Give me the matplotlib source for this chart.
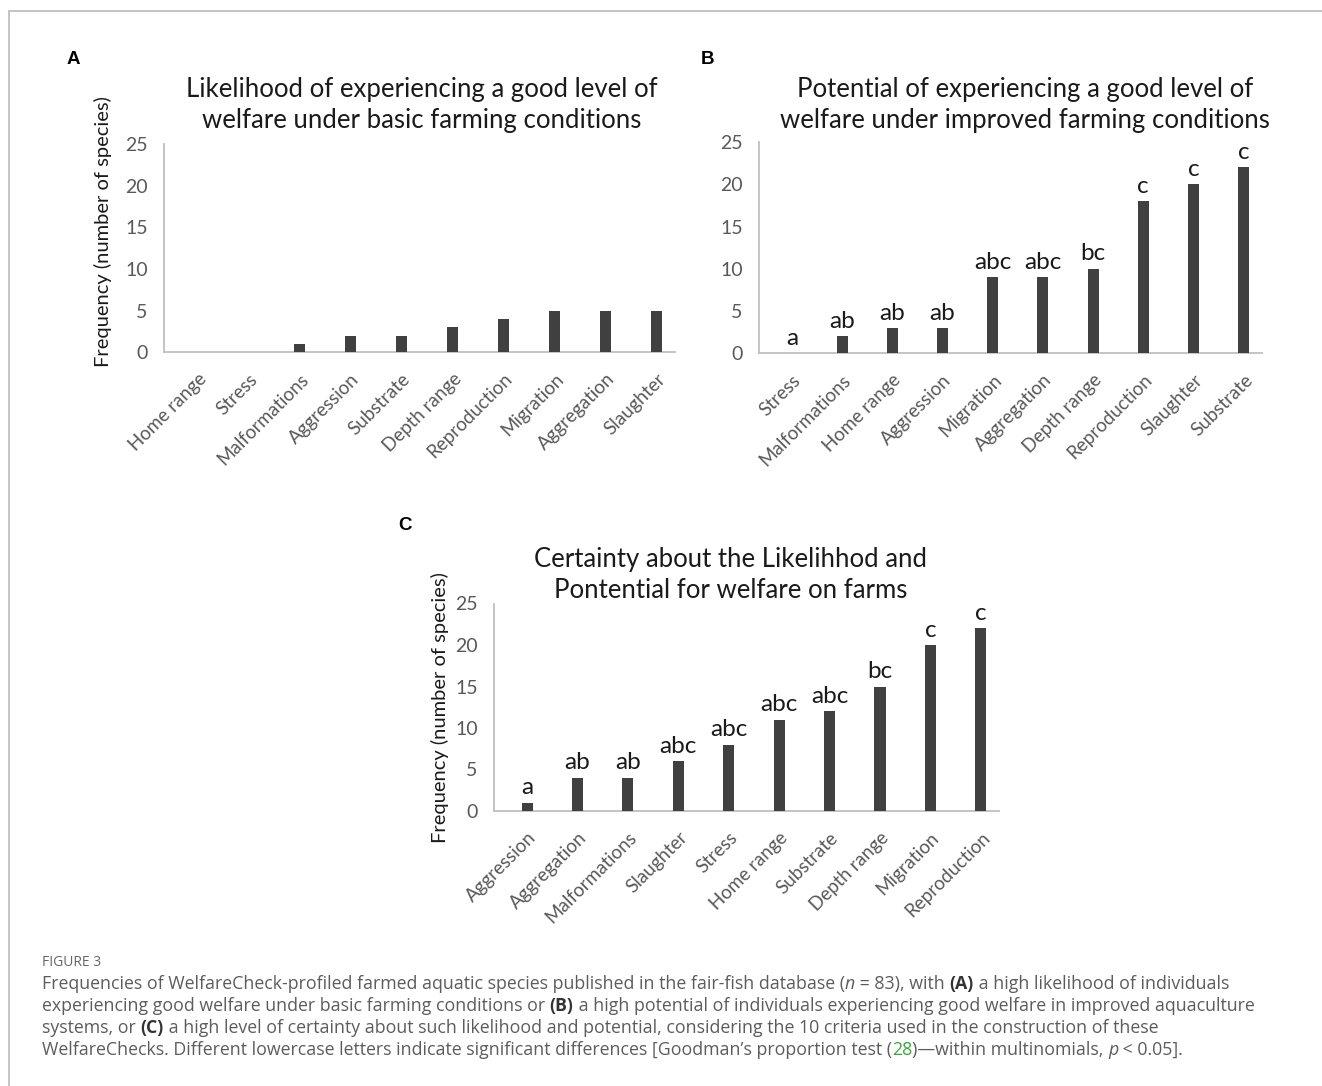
import matplotlib
matplotlib.use("Agg")
from matplotlib import pyplot as plt
from matplotlib.lines import Line2D

# Criteria and counts for each panel
labels_a = ["Home range", "Stress", "Malformations", "Aggression", "Substrate",
            "Depth range", "Reproduction", "Migration", "Aggregation", "Slaughter"]
values_a = [0, 0, 1, 2, 2, 3, 4, 5, 5, 5]

labels_b = ["Stress", "Malformations", "Home range", "Aggression", "Migration",
            "Aggregation", "Depth range", "Reproduction", "Slaughter", "Substrate"]
values_b = [0, 2, 3, 3, 9, 9, 10, 18, 20, 22]
letters_b = ["a", "ab", "ab", "ab", "abc", "abc", "bc", "c", "c", "c"]

labels_c = ["Aggression", "Aggregation", "Malformations", "Slaughter", "Stress",
            "Home range", "Substrate", "Depth range", "Migration", "Reproduction"]
values_c = [1, 4, 4, 6, 8, 11, 12, 15, 20, 22]
letters_c = ["a", "ab", "ab", "abc", "abc", "abc", "abc", "bc", "c", "c"]

yticks = [0, 5, 10, 15, 20, 25]

title_a = "Likelihood of experiencing a good level of\nwelfare under basic farming conditions"
title_b = "Potential of experiencing a good level of\nwelfare under improved farming conditions"
title_c = "Certainty about the Likelihhod and\nPontential for welfare on farms"
ylabel = "Frequency (number of species)"

CHART_FONT = ["Lato", "DejaVu Sans"]
BAR = "#404040"
AXIS = "#bfbfbf"
TICK = "#595959"

W, H = 1322, 1086
fig = plt.figure(figsize=(W / 100, H / 100), dpi=100)
fig.patch.set_facecolor("white")


def px(x0, y0, x1, y1):
    # pixel box (left, top, right, bottom) -> figure fraction rect
    return [x0 / W, 1 - y1 / H, (x1 - x0) / W, (y1 - y0) / H]


def bar_panel(rect, labels, values, letters=None, label_pos=None):
    ax = fig.add_axes(rect)
    x = list(range(len(labels)))
    ax.bar(x, values, width=0.22, color=BAR, zorder=3)
    ax.set_xlim(-0.65, 9.36)
    ax.set_ylim(0, 25)
    ax.set_yticks(yticks)
    ax.set_xticks(x)
    ax.set_xticklabels(labels, rotation=45, ha="right", rotation_mode="anchor",
                       family=CHART_FONT, fontsize=13.5, color=TICK)
    for t in ax.get_yticklabels():
        t.set_family(CHART_FONT)
        t.set_fontsize(14)
        t.set_color(TICK)
    ax.tick_params(axis="y", length=0, pad=12)
    ax.tick_params(axis="x", length=0, pad=13)
    for s in ["top", "right"]:
        ax.spines[s].set_visible(False)
    for s in ["left", "bottom"]:
        ax.spines[s].set_color(AXIS)
        ax.spines[s].set_linewidth(1.3)
    if letters is not None:
        for xi, v, lt in zip(x, values, letters):
            ax.annotate(lt, (xi, v), xytext=(0, 6), textcoords="offset points",
                        ha="center", va="baseline", fontsize=17.5,
                        family=CHART_FONT, color="#1a1a1a")
    if label_pos is not None:
        ax.set_ylabel(ylabel, family=CHART_FONT, fontsize=14.5, color="#1a1a1a")
        ax.yaxis.set_label_coords(*label_pos)
    return ax


ax_a = bar_panel(px(164.3, 144, 675, 352.3), labels_a, values_a,
                 label_pos=(-0.102, 0.58))
ax_b = bar_panel(px(759.3, 142, 1261.7, 353.3), labels_b, values_b, letters_b)
ax_c = bar_panel(px(494.3, 603.5, 999, 811), labels_c, values_c, letters_c,
                 label_pos=(-0.09, 0.5))

# Panel titles
for tx, ty, txt in [(422, 105, title_a), (1025, 105, title_b), (731, 575, title_c)]:
    fig.text(tx / W, 1 - ty / H, txt, ha="center", va="center", fontsize=18.5,
             family=CHART_FONT, color="#1a1a1a", linespacing=1.3)

# Panel letters
for tx, ty, txt in [(73, 60, "A"), (708, 60, "B"), (405, 526, "C")]:
    fig.text(tx / W, 1 - ty / H, txt, ha="center", va="center", fontsize=13.5,
             fontweight="bold", family=["Liberation Sans", "DejaVu Sans"],
             color="black")

# Frame lines at the top and left edge
fig.add_artist(Line2D([9 / W, 1], [1 - 11 / H, 1 - 11 / H], color="#c4c4c4",
                      linewidth=1.4, transform=fig.transFigure))
fig.add_artist(Line2D([9 / W, 9 / W], [1 - 11 / H, 0], color="#c4c4c4",
                      linewidth=1.4, transform=fig.transFigure))

# Caption
CAP_FONT = ["Open Sans", "DejaVu Sans"]
CAP_COLOR = "#5c5c5c"
fig.text(42 / W, 1 - 962 / H, "FIGURE 3", ha="left", va="center", fontsize=10,
         family=CAP_FONT, color="#666666")

caption_lines = [
    [("Frequencies of WelfareCheck-profiled farmed aquatic species published in the fair-fish database (", {}),
     ("n", {"style": "italic"}), (" = 83), with ", {}), ("(A)", {"weight": "bold", "color": "#333333"}),
     (" a high likelihood of individuals", {})],
    [("experiencing good welfare under basic farming conditions or ", {}),
     ("(B)", {"weight": "bold", "color": "#333333"}),
     (" a high potential of individuals experiencing good welfare in improved aquaculture", {})],
    [("systems, or ", {}), ("(C)", {"weight": "bold", "color": "#333333"}),
     (" a high level of certainty about such likelihood and potential, considering the 10 criteria used in the construction of these", {})],
    [("WelfareChecks. Different lowercase letters indicate significant differences [Goodman\u2019s proportion test (", {}),
     ("28", {"color": "#3aa63a"}), (")\u2014within multinomials, ", {}), ("p", {"style": "italic"}),
     (" < 0.05].", {})],
]

renderer = fig.canvas.get_renderer()
for i, runs in enumerate(caption_lines):
    y = 1 - (984 + 22 * i) / H
    xpix = 42
    for txt, style in runs:
        kw = dict(fontsize=12.8, family=CAP_FONT, color=CAP_COLOR)
        kw.update(style)
        t = fig.text(xpix / W, y, txt, ha="left", va="center", **kw)
        xpix += t.get_window_extent(renderer=renderer).width

fig.savefig("out.png", dpi=100, facecolor="white")
